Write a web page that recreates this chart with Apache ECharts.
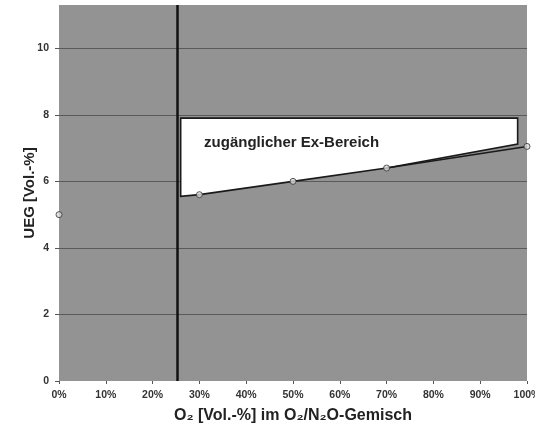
<!DOCTYPE html>
<html><head><meta charset="utf-8">
<script src="https://cdn.jsdelivr.net/npm/echarts@6/dist/echarts.min.js"></script>
<style>html,body{margin:0;padding:0;background:#fff}#c{width:535px;height:432px}</style>
</head><body><div id="c"></div>
<script>
// Data
const o2Percent = [0, 30, 50, 70, 100];
const uegValues = [5.0, 5.6, 6.0, 6.4, 7.05];
const xTickLabels = ['0%','10%','20%','30%','40%','50%','60%','70%','80%','90%','100%'];
const yTickLabels = ['0','2','4','6','8','10'];
const limitO2 = 25.3;
const regionX = [26, 30, 50, 70, 98];
const regionLow = [5.55, 5.6, 6.0, 6.4, 7.12];
const regionTop = 7.9;
const regionLabel = 'zugänglicher Ex-Bereich';
const regionLabelPos = [31, 7.15];

const font = '"Liberation Sans", Arial, sans-serif';
const chart = echarts.init(document.getElementById('c'), null, {renderer: 'canvas'});

chart.setOption({
  animation: false,
  backgroundColor: '#ffffff',
  grid: {left: 59, right: 8, top: 5, bottom: 51, show: true, backgroundColor: '#939393', borderWidth: 0,
    outerBoundsMode: 'none', containLabel: false},
  xAxis: {
    type: 'value', min: 0, max: 100, interval: 10,
    name: 'O\u2082 [Vol.-%] im O\u2082/N\u2082O-Gemisch',
    nameLocation: 'middle', nameGap: 27, nameMoveOverlap: false,
    nameTextStyle: {fontFamily: font, fontWeight: 'bold', fontSize: 16, color: '#222'},
    axisLine: {show: false},
    axisTick: {show: true, length: 3, lineStyle: {color: '#555'}},
    axisLabel: {fontFamily: font, fontWeight: 'bold', fontSize: 10.5, color: '#333', margin: 9,
      formatter: v => xTickLabels[Math.round(v / 10)] || ''},
    splitLine: {show: false}
  },
  yAxis: {
    type: 'value', min: 0, max: 11.3, interval: 2,
    name: 'UEG [Vol.-%]', nameLocation: 'middle', nameGap: 22, nameRotate: 90, nameMoveOverlap: false,
    nameTextStyle: {fontFamily: font, fontWeight: 'bold', fontSize: 15, color: '#222'},
    axisLine: {show: false},
    axisTick: {show: true, length: 4, lineStyle: {color: '#555'}},
    axisLabel: {fontFamily: font, fontWeight: 'bold', fontSize: 10.5, color: '#333', margin: 10, showMaxLabel: false,
      formatter: v => { const i = Math.round(v / 2); return (Math.abs(v - i * 2) < 1e-6 && yTickLabels[i]) ? yTickLabels[i] : ''; }},
    splitLine: {show: false}
  },
  series: [
    {
      type: 'custom',
      data: [0],
      z: 3,
      renderItem: function (params, api) {
        const pts = [];
        pts.push(api.coord([regionX[0], regionTop]));
        pts.push(api.coord([regionX[regionX.length - 1], regionTop]));
        for (let i = regionX.length - 1; i >= 0; i--) pts.push(api.coord([regionX[i], regionLow[i]]));
        const tp = api.coord(regionLabelPos);
        return {
          type: 'group',
          children: [
            {type: 'polygon', shape: {points: pts}, style: {fill: '#ffffff', stroke: '#1a1a1a', lineWidth: 1.6}},
            {type: 'text', x: tp[0], y: tp[1], style: {text: regionLabel, fill: '#222', font: 'bold 15px ' + font, verticalAlign: 'middle'}}
          ]
        };
      },
      markLine: {
        silent: true, symbol: 'none', label: {show: false}, z: 1,
        lineStyle: {color: '#5a5a5a', width: 1, type: 'solid'},
        data: yTickLabels.slice(1).map(v => ({yAxis: Number(v)}))
      }
    },
    {
      type: 'line',
      data: o2Percent.slice(3).map((x, i) => [x, uegValues[i + 3]]),
      showSymbol: false,
      lineStyle: {color: '#1a1a1a', width: 1.6},
      z: 4
    },
    {
      type: 'scatter',
      data: o2Percent.map((x, i) => [x, uegValues[i]]),
      symbol: 'circle', symbolSize: 6,
      itemStyle: {color: '#d8d8d8', borderColor: '#333', borderWidth: 1},
      z: 5,
      markLine: {
        silent: true, symbol: 'none', label: {show: false},
        lineStyle: {color: '#111', width: 2.5, type: 'solid'},
        data: [{xAxis: limitO2}]
      }
    }
  ]
});
</script></body></html>
